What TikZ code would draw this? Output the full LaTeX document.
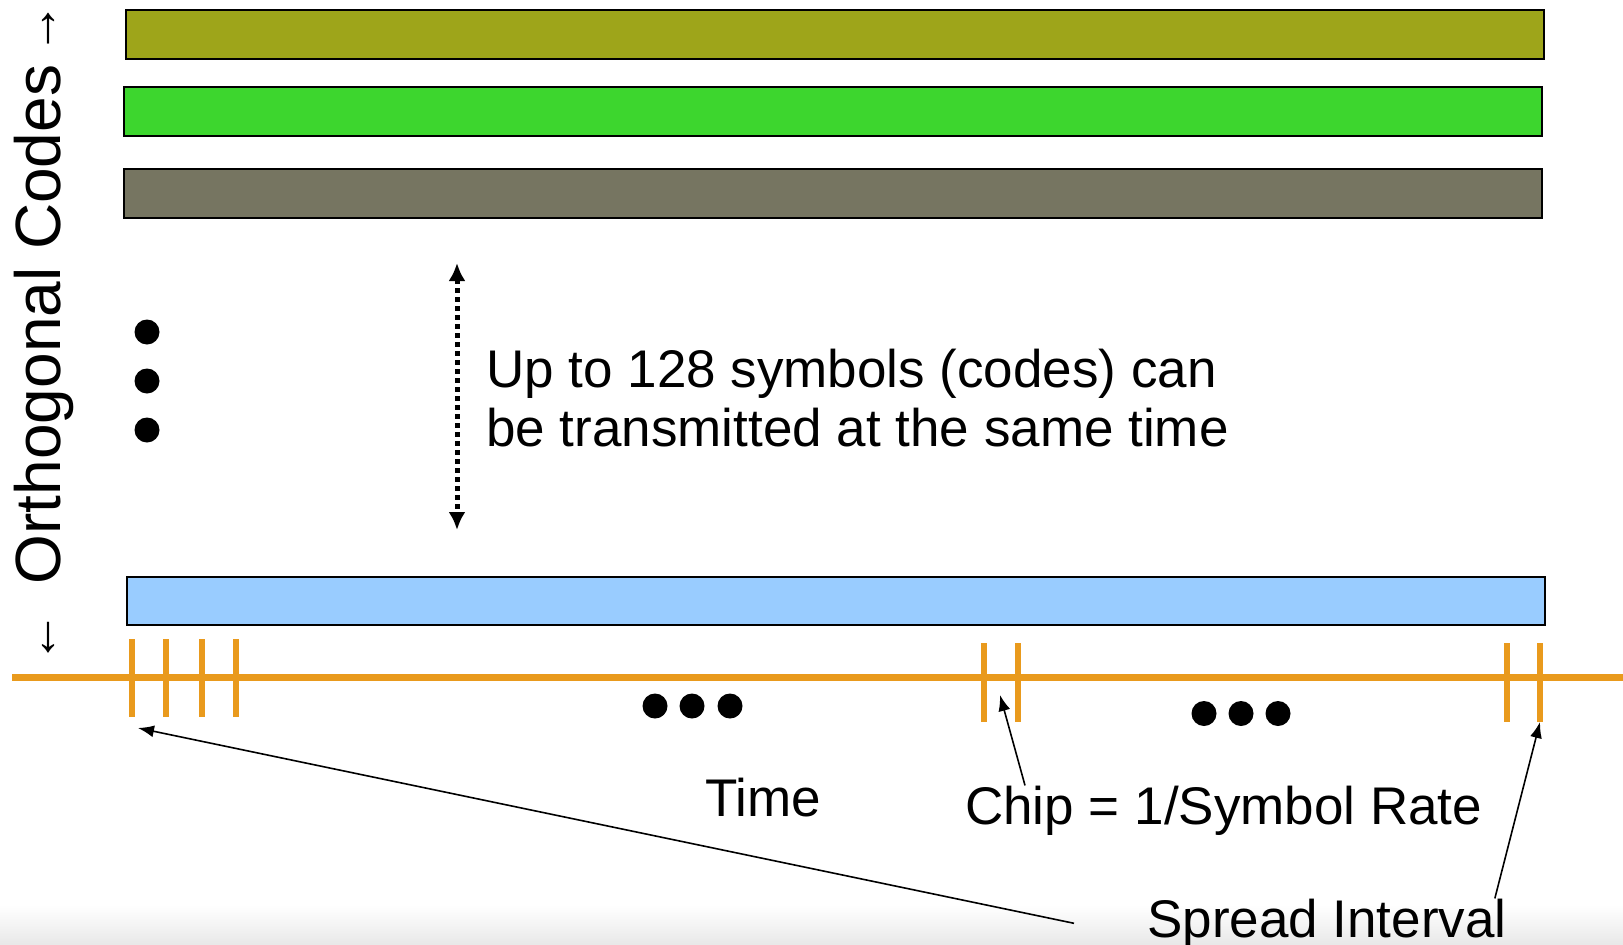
\documentclass[tikz,border=0pt]{standalone}
\usepackage{fontspec}
\setmainfont{Liberation Sans}
\usetikzlibrary{positioning, arrows.meta, calc}
\definecolor{codeolive}{HTML}{9EA51A}
\definecolor{codegreen}{HTML}{3DD62E}
\definecolor{codegray}{HTML}{767561}
\definecolor{codeblue}{HTML}{99CCFF}
\definecolor{timeorange}{HTML}{E99A1D}

\begin{document}
\begin{tikzpicture}[
    x=1pt, y=-1pt,
    >={Latex[width=12pt,length=16pt]},
    codebar/.style={rectangle, draw=black, line width=2pt, minimum width=1418pt, minimum height=49pt, inner sep=0pt},
    chipmark/.style={draw=timeorange, line width=6pt},
    lbl/.style={font=\fontsize{53}{59}\selectfont, inner sep=0pt},
    axisarrow/.style={font=\fontsize{52}{52}\selectfont, inner sep=0pt},
    bigdot/.style={fill=black},
    callout/.style={->, line width=1.6pt}
]

% Frame
\fill[white] (0,0) rectangle (1623,945);
\shade[top color=white, bottom color=black!9] (0,905) rectangle (1623,945);
\useasboundingbox (0,0) rectangle (1623,945);

% Code bars
\node[codebar, fill=codeolive] (code1) at (835,34.5) {};
\node[codebar, fill=codegreen] (code2) at (833,111) {};
\node[codebar, fill=codegray] (code3) at (833,193.5) {};
\node[codebar, fill=codeblue, minimum height=48pt] (codeN) at (835.5,601) {};

% Axis label
\node[font=\fontsize{64}{64}\selectfont, inner sep=0pt, rotate=90, anchor=base] (axislbl) at (60,324.5) {Orthogonal Codes};
\node[axisarrow] (upArrow) at (48.6,28.5) {↑};
\node[axisarrow] (downArrow) at (48.6,637.5) {↓};

% Vertical dots
\foreach \y in {332,381,430}
    \fill[bigdot] (147,\y) circle (12.5pt);

% Span arrow and note
\coordinate (spanTop) at (457,263);
\coordinate (spanBot) at (457,530);
\draw[{Latex[width=17pt,length=18pt]}-{Latex[width=17pt,length=18pt]}, line width=5pt, dash pattern=on 5pt off 4pt] (spanTop) -- (spanBot);
\node[lbl, align=left, anchor=base west] (note) at (486,446) {Up to 128 symbols (codes) can\\be transmitted at the same time};

% Time axis
\draw[draw=timeorange, line width=7pt] (12,677) -- (1623,677);
\foreach \x in {132,166,202,236}
    \draw[chipmark] (\x,639) -- (\x,717);
\foreach \x in {984,1018,1507,1540}
    \draw[chipmark] (\x,643) -- (\x,722);

% Horizontal dots
\foreach \x in {655,692,730}
    \fill[bigdot] (\x,706) circle (12.5pt);
\foreach \x in {1204,1241,1278}
    \fill[bigdot] (\x,713.5) circle (12.5pt);

% Labels
\node[lbl, anchor=base west] (timelbl) at (705,816) {Time};
\node[lbl, anchor=base west] (chiplbl) at (965,824) {Chip = 1/Symbol Rate};
\node[lbl, anchor=base west] (spreadlbl) at (1147,937) {Spread Interval};

% Callout arrows
\coordinate (tickA) at (138,728);
\coordinate (tickB) at (1000,695);
\coordinate (tickC) at (1540,722);
\draw[callout] ([xshift=60pt]chiplbl.north west) -- (tickB);
\draw[callout] ([xshift=-73pt]spreadlbl.west) -- (tickA);
\draw[callout] ([xshift=-12pt]spreadlbl.north east) -- (tickC);

\end{tikzpicture}
\end{document}
